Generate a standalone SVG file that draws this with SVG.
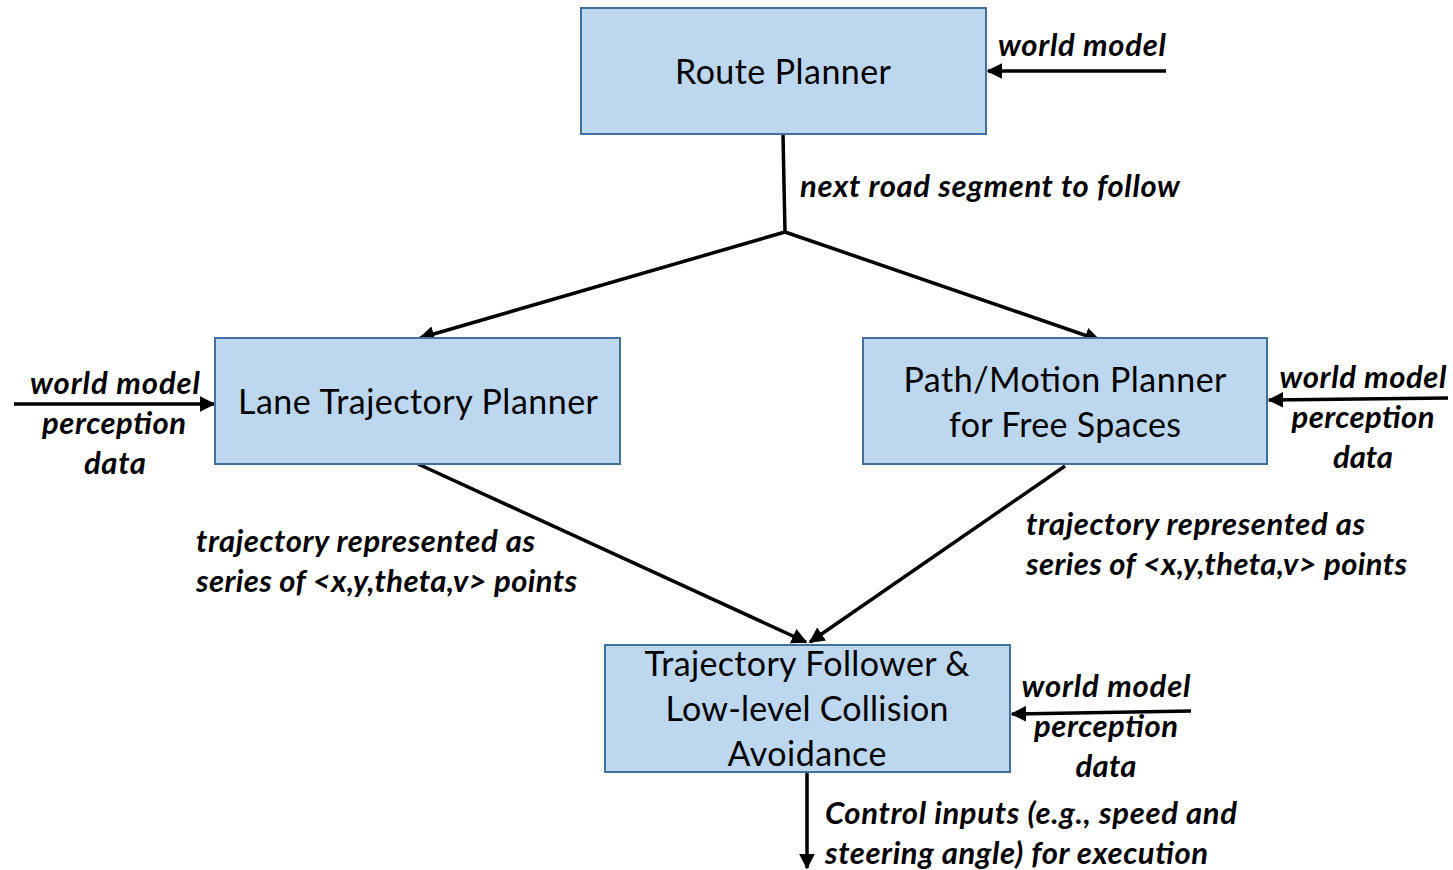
<svg xmlns="http://www.w3.org/2000/svg" width="1453" height="870" viewBox="0 0 1453 870">
  <style>
    .box { fill: #BDD7EE; stroke: #41719C; stroke-width: 2; }
    .title { font-family: Lato, "Liberation Sans", sans-serif; font-size: 34px; fill: #000; text-anchor: middle; }
    .lbl { font-family: Lato, "Liberation Sans", sans-serif; font-size: 31px; font-style: italic; font-weight: bold; fill: #000; }
    .mid { text-anchor: middle; }
    .wire { stroke: #000; stroke-width: 3.5; fill: none; }
  </style>
  <defs>
    <marker id="head" viewBox="0 0 10 10" refX="9" refY="5" markerWidth="4.5" markerHeight="4.5" orient="auto" markerUnits="strokeWidth">
      <path d="M0,0 L10,5 L0,10 z" fill="#000"/>
    </marker>
  </defs>
  <rect width="1453" height="870" fill="#fff"/>

  <g id="connectors">
    <line class="wire" x1="1166" y1="71" x2="988" y2="71" marker-end="url(#head)"/>
    <polyline class="wire" points="783,134 784,185 785,232"/>
    <line class="wire" x1="785" y1="232" x2="420" y2="338" marker-end="url(#head)"/>
    <line class="wire" x1="785" y1="232" x2="1099" y2="340" marker-end="url(#head)"/>
    <line class="wire" x1="14" y1="404" x2="214" y2="404" marker-end="url(#head)"/>
    <line class="wire" x1="1448" y1="398" x2="1269" y2="400" marker-end="url(#head)"/>
    <line class="wire" x1="418" y1="464" x2="806" y2="642" marker-end="url(#head)"/>
    <line class="wire" x1="1065" y1="466" x2="810" y2="642" marker-end="url(#head)"/>
    <line class="wire" x1="1191" y1="711" x2="1012" y2="714" marker-end="url(#head)"/>
    <line class="wire" x1="807" y1="772" x2="807" y2="868" marker-end="url(#head)"/>
  </g>

  <g id="route-planner">
    <rect class="box" x="581" y="8" width="405" height="126"/>
    <text class="title" x="783" y="84" textLength="216">Route Planner</text>
  </g>
  <g id="route-input">
    <text class="lbl" x="998" y="56" textLength="168">world model</text>
  </g>
  <g id="route-output-label">
    <text class="lbl" x="800" y="197" textLength="380">next road segment to follow</text>
  </g>

  <g id="lane-planner">
    <rect class="box" x="215" y="338" width="405" height="126"/>
    <text class="title" x="418" y="414" textLength="360">Lane Trajectory Planner</text>
  </g>
  <g id="lane-input">
    <text class="lbl mid" x="115" y="394" textLength="170">world model</text>
    <text class="lbl mid" x="114" y="434" textLength="144">perception</text>
    <text class="lbl mid" x="115" y="474" textLength="62">data</text>
  </g>

  <g id="free-space-planner">
    <rect class="box" x="863" y="338" width="404" height="126"/>
    <text class="title" x="1065" y="392" textLength="323">Path/Motion Planner</text>
    <text class="title" x="1065" y="437" textLength="232">for Free Spaces</text>
  </g>
  <g id="free-space-input">
    <text class="lbl mid" x="1363" y="388" textLength="167">world model</text>
    <text class="lbl mid" x="1363" y="428" textLength="143">perception</text>
    <text class="lbl mid" x="1363" y="468" textLength="60">data</text>
  </g>

  <g id="lane-output-label">
    <text class="lbl" x="196" y="552" textLength="339">trajectory represented as</text>
    <text class="lbl" x="196" y="592" textLength="381">series of &lt;x,y,theta,v&gt; points</text>
  </g>
  <g id="free-space-output-label">
    <text class="lbl" x="1026" y="535" textLength="339">trajectory represented as</text>
    <text class="lbl" x="1026" y="575" textLength="381">series of &lt;x,y,theta,v&gt; points</text>
  </g>

  <g id="trajectory-follower">
    <rect class="box" x="605" y="645" width="405" height="127"/>
    <text class="title" x="807" y="676" textLength="325">Trajectory Follower &amp;</text>
    <text class="title" x="807" y="721" textLength="283">Low-level Collision</text>
    <text class="title" x="807" y="766" textLength="159">Avoidance</text>
  </g>
  <g id="follower-input">
    <text class="lbl mid" x="1106" y="697" textLength="169">world model</text>
    <text class="lbl mid" x="1106" y="737" textLength="144">perception</text>
    <text class="lbl mid" x="1106" y="777" textLength="61">data</text>
  </g>
  <g id="follower-output-label">
    <text class="lbl" x="825" y="824" textLength="412">Control inputs (e.g., speed and</text>
    <text class="lbl" x="825" y="864" textLength="383">steering angle) for execution</text>
  </g>
</svg>
